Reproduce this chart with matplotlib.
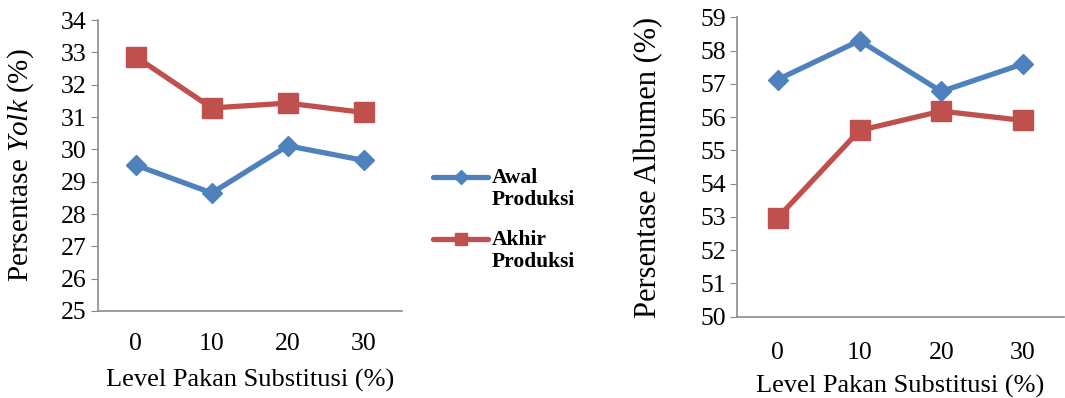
import matplotlib
matplotlib.use("Agg")
import matplotlib.pyplot as plt
from matplotlib.lines import Line2D

# level substitusi pakan
levels = ["0", "10", "20", "30"]

# persentase yolk
yolk_awal = [29.51, 28.65, 30.11, 29.66]
yolk_akhir = [32.86, 31.28, 31.43, 31.14]

# persentase albumen
alb_awal = [57.13, 58.30, 56.77, 57.60]
alb_akhir = [52.98, 55.60, 56.18, 55.90]

series_names = [("Awal", "Produksi"), ("Akhir", "Produksi")]

blue = "#4F81BD"
red = "#C0504D"
grey = "#8C8C8C"

plt.rcParams["font.family"] = "Liberation Serif"
plt.rcParams["mathtext.fontset"] = "custom"
plt.rcParams["mathtext.rm"] = "Liberation Serif"
plt.rcParams["mathtext.it"] = "Liberation Serif:italic"

fig = plt.figure(figsize=(10.65, 3.98), dpi=100)
ax1 = fig.add_axes([0.092, 0.2186, 0.285, 0.7311])
ax2 = fig.add_axes([0.692, 0.2043, 0.307, 0.7522])


def style(ax, lo, hi, xpad, lpad, ylx):
    ax.set_xlim(-0.5, 3.5)
    ax.set_ylim(lo, hi)
    ax.set_yticks(range(lo, hi + 1))
    ax.set_xticks(range(len(levels)))
    ax.set_xticklabels(levels)
    for s in ["top", "right"]:
        ax.spines[s].set_visible(False)
    for s in ["left", "bottom"]:
        ax.spines[s].set_color(grey)
        ax.spines[s].set_linewidth(1.2)
    ax.tick_params(axis="y", direction="out", length=5, color=grey, labelsize=18.5, pad=3)
    ax.tick_params(axis="x", length=0, labelsize=18.5, pad=xpad)
    ax.set_xlabel("Level Pakan Substitusi (%)", fontsize=19, labelpad=lpad)
    ax.yaxis.set_label_coords(ylx, 0.5)


x = range(len(levels))
ax1.plot(x, yolk_awal, color=blue, lw=3.8, marker="D", ms=10, clip_on=False)
ax1.plot(x, yolk_akhir, color=red, lw=3.8, marker="s", ms=14, clip_on=False)
style(ax1, 25, 34, 16, 10, -0.205)
ax1.set_ylabel(r"Persentase $\it{Yolk}$ (%)", fontsize=21)

ax2.plot(x, alb_awal, color=blue, lw=3.8, marker="D", ms=10, clip_on=False)
ax2.plot(x, alb_akhir, color=red, lw=3.8, marker="s", ms=14, clip_on=False)
style(ax2, 50, 59, 18, 8, -0.225)
ax2.set_ylabel("Persentase Albumen (%)", fontsize=22)

# legenda di antara kedua grafik
H = 398.0
W = 1065.0
legend_items = [(blue, "D", 7, 177), (red, "s", 9, 239)]
for (color, mk, ms, yp), (w1, w2) in zip(legend_items, series_names):
    fig.add_artist(Line2D([433 / W, 488 / W], [1 - yp / H, 1 - yp / H],
                          color=color, lw=3.8, solid_capstyle="round",
                          transform=fig.transFigure))
    fig.add_artist(Line2D([460.5 / W], [1 - yp / H], color=color, marker=mk,
                          ms=ms, transform=fig.transFigure))
    fig.text(492 / W, 1 - (yp + 1) / H, w1, fontsize=15.5, fontweight="bold", va="center")
    fig.text(492 / W, 1 - (yp + 23) / H, w2, fontsize=15.5, fontweight="bold", va="center")

fig.savefig("out.png", dpi=100)
